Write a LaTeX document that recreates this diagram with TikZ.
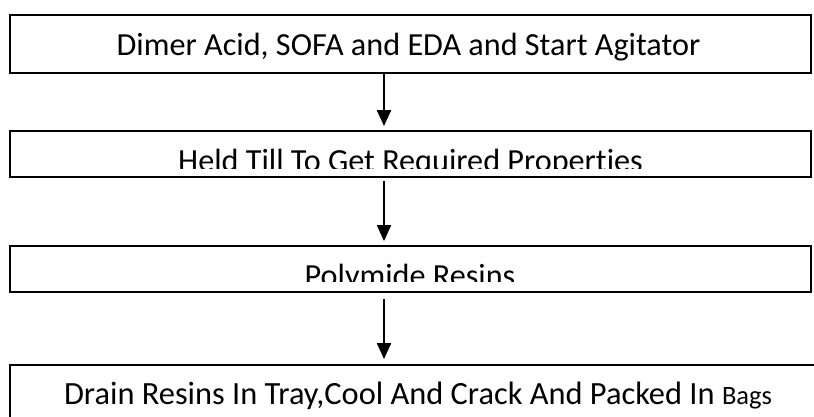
\documentclass[tikz,border=0pt]{standalone}
\usepackage{fontspec}
\setmainfont{Carlito}[Ligatures=NoCommon]
\usetikzlibrary{arrows.meta}

\tikzset{
  % --- Khung cac buoc --------------------------------------
  stepbox/.style={draw, line width=1.8pt, fill=none, minimum width=801pt,
    inner sep=0pt},
  steptext/.style={anchor=base, inner sep=0pt,
    font=\fontsize{32.2}{38}\selectfont},
  steptextb/.style={anchor=base, inner sep=0pt,
    font=\fontsize{32.4}{38}\selectfont},
  % --- Mui ten ---------------------------------------------
  arr/.style={-{Triangle[length=16pt, width=14pt]}, line width=2pt}
}

\begin{document}
\begin{tikzpicture}[x=1pt, y=1pt]
  \useasboundingbox (0,0) rectangle (814,417);
  \clip (0,0) rectangle (814,417);

  % --- Cac khung ---------------------------------------------------
  \node[stepbox, minimum height=58pt] (DA) at (410.5,373) {};
  \node[stepbox, minimum height=46pt] (HT) at (410.5,263) {};
  \node[stepbox, minimum height=46pt] (PR) at (410.5,148) {};
  \node[stepbox, minimum width=816pt, minimum height=62pt] (DR) at (418,21) {};

  % --- Chu trong khung ---------------------------------------------
  \node[steptext] (DAt) at (408.5,361.3) {Dimer Acid, SOFA and EDA and Start Agitator};
  \begin{scope}
    \clip (HT.north west) rectangle ([yshift=9pt]HT.south east);
    \node[steptext] (HTt) at (410.5,245.3) {Held Till To Get Required Properties};
  \end{scope}
  \begin{scope}
    \clip (PR.north west) rectangle ([yshift=11pt]PR.south east);
    \node[steptext] (PRt) at (410,130) {Polymide Resins};
  \end{scope}
  \node[steptextb] (DRt) at (418,12) {Drain Resins In Tray,Cool And Crack And Packed In {\fontsize{26.5}{31}\selectfont Bags}};

  % --- Mui ten giua cac buoc ----------------------------------------
  \coordinate (ax) at (384,0);
  \draw[arr, shorten >=4pt] (DA.south -| ax) -- (HT.north -| ax);
  \draw[arr, shorten <=3pt, shorten >=4pt] (HT.south -| ax) -- (PR.north -| ax);
  \draw[arr, shorten <=6pt, shorten >=5pt] (PR.south -| ax) -- (DR.north -| ax);

\end{tikzpicture}
\end{document}
